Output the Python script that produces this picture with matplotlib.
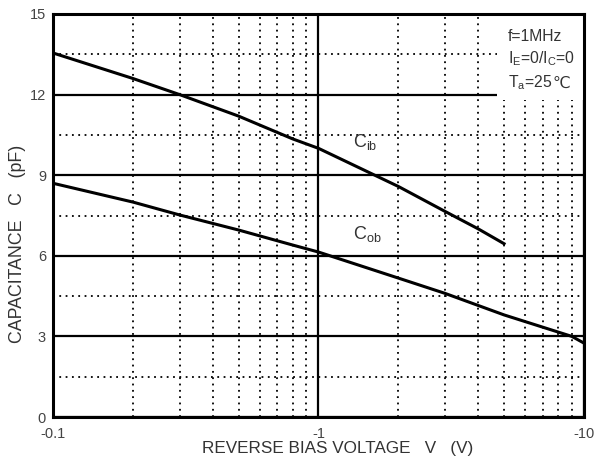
import matplotlib
matplotlib.use("Agg")
import matplotlib.pyplot as plt
from matplotlib.patches import Rectangle
from matplotlib.ticker import FixedLocator, NullFormatter

plt.rcParams['font.family'] = ['Liberation Sans', 'DejaVu Sans']
plt.rcParams['mathtext.fontset'] = 'custom'
plt.rcParams['mathtext.rm'] = 'Liberation Sans'
plt.rcParams['mathtext.it'] = 'Liberation Sans'

# reverse bias (magnitude, V) vs capacitance (pF)
cib_v = [0.1, 0.2, 0.3, 0.5, 0.8, 1, 2, 3, 4, 5]
cib_c = [13.55, 12.6, 12.0, 11.2, 10.35, 10.0, 8.58, 7.65, 7.0, 6.45]
cob_v = [0.1, 0.2, 0.3, 0.5, 0.8, 1, 2, 3, 5, 9, 10]
cob_c = [8.7, 8.0, 7.52, 6.96, 6.4, 6.14, 5.17, 4.6, 3.8, 3.0, 2.75]

x_ticks = [0.1, 1, 10]
x_labels = ["-0.1", "-1", "-10"]
x_minor = [0.2, 0.3, 0.4, 0.5, 0.6, 0.7, 0.8, 0.9, 2, 3, 4, 5, 6, 7, 8, 9]
y_ticks = [0, 3, 6, 9, 12, 15]
y_minor = [1.5, 4.5, 7.5, 10.5, 13.5]

txt = '#333333'

fig = plt.figure(figsize=(5.95, 4.59), dpi=100)
ax = fig.add_axes([0.089, 0.0915, 0.8925, 0.878])

ax.set_xscale('log')
ax.set_xlim(0.1, 10)
ax.set_ylim(0, 15)
ax.set_xticks(x_ticks)
ax.set_xticklabels(x_labels)
ax.xaxis.set_minor_locator(FixedLocator(x_minor))
ax.xaxis.set_minor_formatter(NullFormatter())
ax.set_yticks(y_ticks)
ax.set_yticks(y_minor, minor=True)
ax.tick_params(which='both', length=0, labelsize=10.5, colors='#444444')
ax.tick_params(axis='x', pad=7)
ax.tick_params(axis='y', pad=5)

ax.set_axisbelow(True)
ax.grid(which='major', color='black', linewidth=1.6, linestyle='-')
ax.grid(which='minor', color='black', linewidth=1.3, linestyle=(0, (1, 2.5)))

for s in ax.spines.values():
    s.set_linewidth(2.2)
    s.set_zorder(3)

# white panel behind the test conditions
ax.add_patch(Rectangle((0.836, 0.787), 0.164, 0.213, transform=ax.transAxes,
                       facecolor='white', edgecolor='none', zorder=1))

ax.plot(cib_v, cib_c, color='black', linewidth=2.2, zorder=2)
ax.plot(cob_v, cob_c, color='black', linewidth=2.2, zorder=2)

ax.text(1.345, 10.06, r'$\mathrm{C}_{\mathrm{ib}}$', fontsize=13, color=txt,
        va='baseline', ha='left')
ax.text(1.345, 6.61, r'$\mathrm{C}_{\mathrm{ob}}$', fontsize=13, color=txt,
        va='baseline', ha='left')

# test conditions, one line per text
cond = dict(transform=ax.transAxes, fontsize=11.3, color=txt,
            va='baseline', ha='left', zorder=4)
ax.text(0.857, 0.934, 'f=1MHz', **cond)
ax.text(0.857, 0.878, r'$\mathrm{I}_{\mathrm{E}}$=0/$\mathrm{I}_{\mathrm{C}}$=0', **cond)
t3 = ax.text(0.857, 0.818, r'$\mathrm{T}_{\mathrm{a}}$=25', **cond)
ax.annotate('℃', xy=(1.0, 0.818), xycoords=(t3, ax.transAxes),
            fontsize=11.3, color=txt, va='baseline', ha='left', zorder=4)

ax.set_xlabel('REVERSE BIAS VOLTAGE   V   (V)', fontsize=12.3, color=txt)
ax.set_ylabel('CAPACITANCE   C   (pF)', fontsize=12.8, color=txt)
ax.xaxis.set_label_coords(0.537, -0.06)
ax.yaxis.set_label_coords(-0.050, 0.43)

fig.savefig('out.png', dpi=100)
